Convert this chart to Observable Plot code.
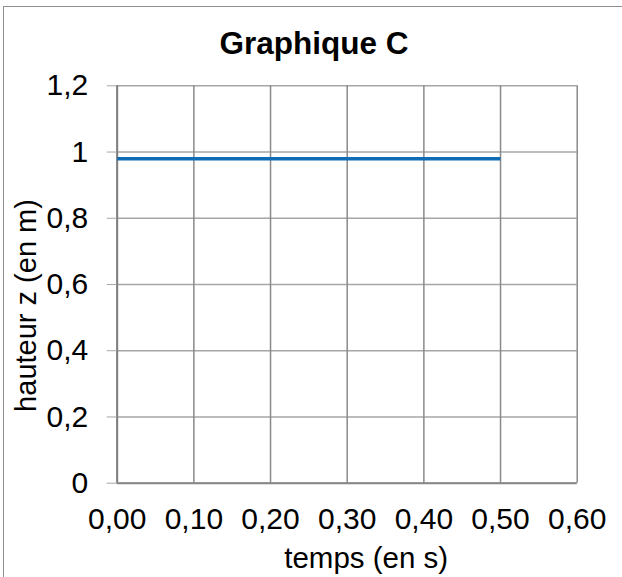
<!DOCTYPE html>
<html>
<head>
<meta charset="utf-8">
<script src="https://cdn.jsdelivr.net/npm/d3@7"></script>
<script src="https://cdn.jsdelivr.net/npm/@observablehq/plot@0.6"></script>
<style>
  html, body { margin: 0; padding: 0; background: #fff; overflow: hidden; }
  body { width: 622px; height: 577px; position: relative; font-family: "Liberation Sans", Arial, sans-serif; }
  #frame { position: absolute; left: 3px; top: 6px; width: 700px; height: 700px;
           border-left: 1px solid #8f8f8f; border-top: 1px solid #8f8f8f; box-sizing: border-box; }
  #title { position: absolute; top: 28px; left: 6px; width: 616px; text-align: center;
           font-size: 31.5px; line-height: 31.5px; font-weight: bold; color: #000; }
  #chart { position: absolute; top: 70px; left: 0; }
</style>
</head>
<body>
<div id="frame"></div>
<div id="title">Graphique C</div>
<div id="chart"></div>
<script>
// Data
const temps = [0.0, 0.1, 0.2, 0.3, 0.4, 0.5];
const hauteur = [0.98, 0.98, 0.98, 0.98, 0.98, 0.98];

const xTicks = [0, 0.1, 0.2, 0.3, 0.4, 0.5, 0.6];
const xTickLabels = ["0,00", "0,10", "0,20", "0,30", "0,40", "0,50", "0,60"];
const yTicks = [0, 0.2, 0.4, 0.6, 0.8, 1.0, 1.2];
const yTickLabels = ["0", "0,2", "0,4", "0,6", "0,8", "1", "1,2"];

const xLabel = "temps (en s)";
const yLabel = "hauteur z (en m)";

const data = temps.map((t, i) => ({t, z: hauteur[i]}));

const chart = Plot.plot({
  width: 622,
  height: 507,
  marginTop: 15.3,
  marginBottom: 94.3,
  marginLeft: 116.7,
  marginRight: 45.3,
  style: {fontFamily: "'Liberation Sans', Arial, sans-serif", fontSize: "30px", color: "#000", background: "transparent", overflow: "visible"},
  x: {domain: [0, 0.6], ticks: xTicks, label: null},
  y: {domain: [0, 1.2], ticks: yTicks, label: null},
  marks: [
    Plot.gridY(yTicks, {stroke: "#a6a6a6", strokeOpacity: 1, strokeWidth: 1.5}),
    Plot.gridX(xTicks, {stroke: "#8a8a8a", strokeOpacity: 1, strokeWidth: 1.5}),
    Plot.ruleY([0], {stroke: "#868686", strokeWidth: 2}),
    Plot.ruleX([0], {stroke: "#7f7f7f", strokeWidth: 2}),
    Plot.axisY(yTicks, {tickSize: 10, tickPadding: 19, stroke: "#a6a6a6", fill: "#000", fontSize: 30,
      tickFormat: d => yTickLabels[yTicks.indexOf(d)], label: null}),
    Plot.axisX(xTicks, {tickSize: 0, tickPadding: 24, fill: "#000", fontSize: 30,
      tickFormat: d => xTickLabels[xTicks.indexOf(d)], label: null}),
    Plot.line(data, {x: "t", y: "z", stroke: "#106cb5", strokeWidth: 3.5, strokeLinecap: "butt"}),
    Plot.text([xLabel], {frameAnchor: "bottom", textAnchor: "middle", dx: 19, dy: 64, lineAnchor: "top", fontSize: 29.5, fill: "#000"}),
    Plot.text([yLabel], {frameAnchor: "left", textAnchor: "middle", lineAnchor: "middle", rotate: -90, dx: -90, dy: 21, fontSize: 29, fill: "#000"})
  ]
});
document.getElementById("chart").appendChild(chart);
</script>
</body>
</html>
